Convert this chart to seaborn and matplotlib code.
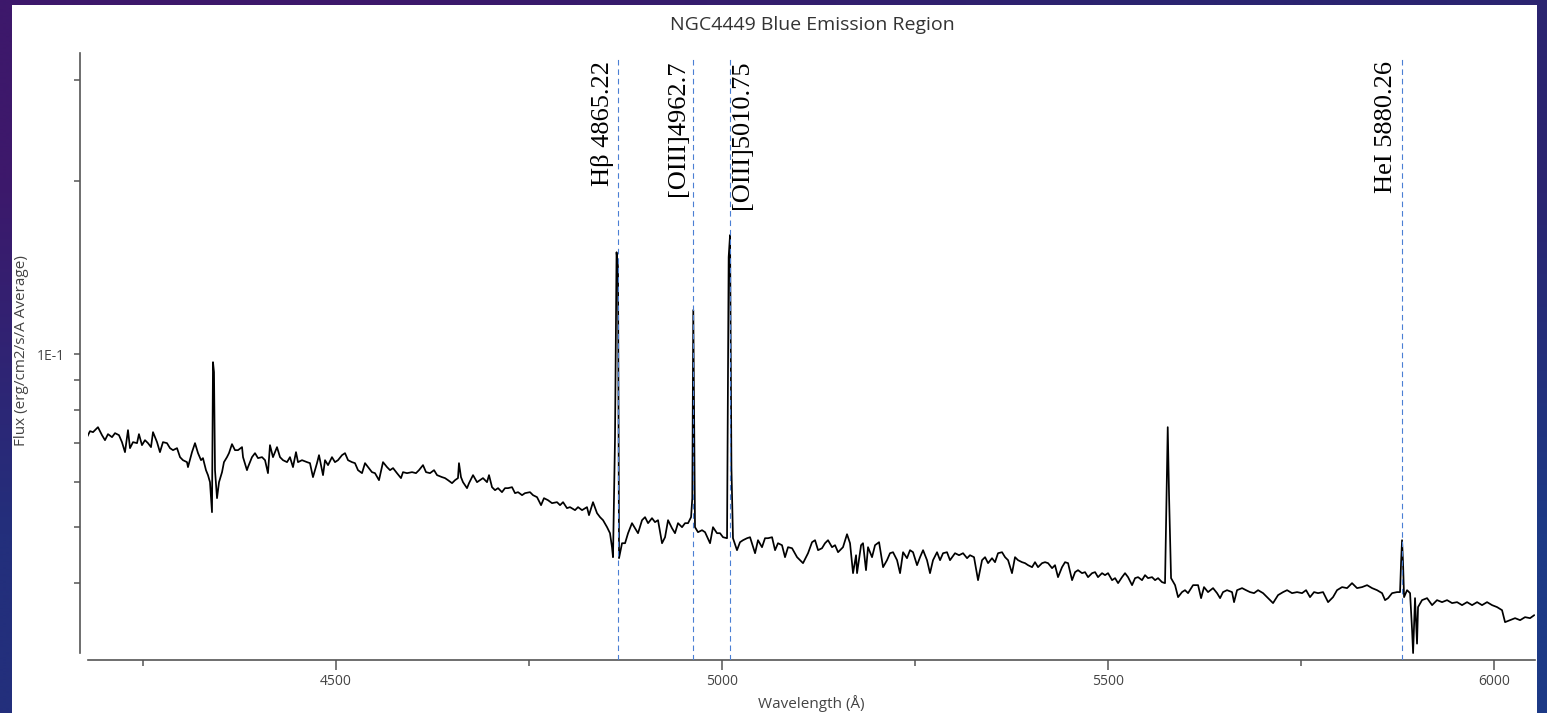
import numpy as np
import pandas as pd
import matplotlib
matplotlib.use("Agg")
import matplotlib.pyplot as plt
from matplotlib.patches import Rectangle
from matplotlib.ticker import FixedLocator, FixedFormatter, NullFormatter
import seaborn as sns

# ---------------- data ----------------
wl_blue = [
    4177.5, 4181.4, 4185.3, 4191.7, 4196.9, 4200.8, 4204.7, 4209.9, 4213.8, 4218.9,
    4222.8, 4226.7, 4230.6, 4233.2, 4237.1, 4242.3, 4244.8, 4248.7, 4252.6, 4256.5,
    4260.4, 4263.0, 4268.2, 4272.0, 4275.9, 4281.1, 4285.0, 4288.9, 4294.1, 4298.0,
    4301.8, 4307.0, 4308.3, 4313.5, 4317.4, 4321.3, 4325.2, 4327.7, 4331.6, 4334.2,
    4336.8, 4339.4, 4340.7, 4342.0, 4343.3, 4345.9, 4348.5, 4352.4, 4354.9, 4358.8,
    4361.4, 4365.3, 4369.2, 4373.1, 4378.3, 4379.6, 4384.7, 4386.0, 4391.2, 4395.1,
    4399.0, 4404.2, 4408.1, 4411.9, 4414.5, 4418.4, 4423.6, 4427.5, 4431.4, 4436.6,
    4440.4, 4444.3, 4448.2, 4450.8, 4456.0, 4462.5, 4466.3, 4470.2, 4475.4, 4478.0,
    4483.2, 4485.8, 4489.7, 4494.8, 4498.7]
fx_blue = [
    0.07172, 0.07346, 0.07317, 0.07464, 0.07230, 0.07086, 0.07259, 0.07172, 0.07288, 0.07230,
    0.07030, 0.06754, 0.07376, 0.06863, 0.07030, 0.07002, 0.07259, 0.06946, 0.07086, 0.07002,
    0.06891, 0.07317, 0.07030, 0.06754, 0.07030, 0.07002, 0.06863, 0.06808, 0.06863, 0.06620,
    0.06540, 0.06489, 0.06361, 0.06754, 0.07002, 0.06727, 0.06540, 0.06594, 0.06284, 0.06160,
    0.05989, 0.05311, 0.09685, 0.09305, 0.06284, 0.05617, 0.05989, 0.06234, 0.06489, 0.06620,
    0.06727, 0.06974, 0.06808, 0.06808, 0.06891, 0.06620, 0.06284, 0.06361, 0.06620, 0.06727,
    0.06594, 0.06620, 0.06540, 0.06209, 0.06946, 0.06620, 0.06891, 0.06620, 0.06540, 0.06489,
    0.06620, 0.06361, 0.06754, 0.06489, 0.06540, 0.06489, 0.06463, 0.06111, 0.06463, 0.06673,
    0.06160, 0.06540, 0.06412, 0.06620, 0.06489]

wl_hbeta = [
    4502.6, 4507.8, 4511.7, 4515.6, 4520.7, 4524.6, 4528.5, 4533.7, 4537.6, 4541.5,
    4546.6, 4550.5, 4555.7, 4560.9, 4566.1, 4570.0, 4573.9, 4579.0, 4584.2, 4586.8,
    4592.0, 4598.5, 4603.6, 4607.5, 4612.7, 4616.6, 4621.8, 4627.0, 4630.9, 4637.3,
    4641.2, 4645.1, 4650.3, 4654.2, 4658.0, 4659.3, 4661.9, 4664.5, 4669.7, 4672.3,
    4677.5, 4682.7, 4686.5, 4690.4, 4695.6, 4698.2, 4702.1, 4706.0, 4709.9, 4715.0,
    4718.9, 4722.8, 4728.0, 4731.9, 4735.8, 4741.0, 4744.8, 4751.3, 4755.2, 4760.4,
    4765.6, 4769.4, 4774.6, 4779.8, 4786.3, 4790.2, 4794.1, 4799.2, 4803.1, 4809.6,
    4813.5, 4818.7, 4825.1, 4827.7, 4832.9, 4838.1, 4842.0, 4845.9, 4851.1, 4854.9,
    4857.5, 4858.8, 4861.4, 4863.4, 4865.3, 4866.6, 4870.5, 4874.4, 4878.3, 4883.4,
    4887.3, 4891.2]
fx_hbeta = [
    0.06540, 0.06673, 0.06727, 0.06540, 0.06489, 0.06463, 0.06284, 0.06209, 0.06463, 0.06361,
    0.06234, 0.06209, 0.06037, 0.06489, 0.06361, 0.06284, 0.06336, 0.06209, 0.06087, 0.06234,
    0.06209, 0.06234, 0.06209, 0.06284, 0.06412, 0.06234, 0.06209, 0.06284, 0.06160, 0.06111,
    0.06087, 0.06037, 0.05965, 0.06037, 0.06087, 0.06463, 0.06111, 0.05989, 0.05847, 0.05965,
    0.06160, 0.05989, 0.06037, 0.06087, 0.05989, 0.06160, 0.05870, 0.05800, 0.05847, 0.05754,
    0.05847, 0.05847, 0.05870, 0.05731, 0.05754, 0.05685, 0.05731, 0.05754, 0.05685, 0.05640,
    0.05462, 0.05617, 0.05572, 0.05506, 0.05528, 0.05462, 0.05528, 0.05397, 0.05419, 0.05354,
    0.05419, 0.05354, 0.05419, 0.05248, 0.05528, 0.05290, 0.05206, 0.05143, 0.05001, 0.04882,
    0.04616, 0.04435, 0.07144, 0.1504, 0.1417, 0.04417, 0.04690, 0.04690, 0.04882, 0.05082,
    0.04981, 0.04882]

wl_oiii = [
    4896.4, 4900.3, 4904.2, 4909.3, 4913.2, 4917.1, 4922.3, 4926.2, 4930.1, 4935.2,
    4939.1, 4943.0, 4948.2, 4952.1, 4956.0, 4959.9, 4961.5, 4962.8, 4965.0, 4968.9,
    4974.1, 4978.0, 4984.5, 4988.3, 4993.5, 4997.4, 5001.3, 5006.5, 5008.6, 5010.4,
    5012.2, 5014.2, 5019.4, 5023.3, 5027.2, 5032.4]
fx_oiii = [
    0.05143, 0.05206, 0.05082, 0.05185, 0.05103, 0.05143, 0.04690, 0.04804, 0.05143, 0.04981,
    0.04882, 0.05082, 0.05001, 0.05082, 0.05082, 0.05206, 0.05617, 0.1193, 0.05001, 0.04902,
    0.04941, 0.04902, 0.04690, 0.05001, 0.04882, 0.04882, 0.04804, 0.04785, 0.1475, 0.1611,
    0.06336, 0.04785, 0.04561, 0.04709, 0.04747, 0.04785]

wl_mid = [
    5036.3, 5042.8, 5046.6, 5051.8, 5055.7, 5059.6, 5064.8, 5068.7, 5072.5, 5077.7,
    5081.6, 5085.5, 5090.7, 5097.2, 5104.9, 5111.4, 5116.6, 5120.5, 5124.4, 5129.5,
    5133.4, 5137.3, 5142.5, 5146.4, 5150.3, 5156.7, 5161.9, 5165.8, 5169.7, 5173.6,
    5174.9, 5180.1, 5182.6, 5186.5, 5189.1, 5194.3, 5198.2, 5203.4, 5208.6, 5213.7,
    5217.6, 5221.5, 5226.7, 5230.6, 5234.5, 5239.6, 5243.5, 5247.4, 5252.6, 5256.5,
    5260.4, 5265.5, 5269.4, 5273.3, 5278.5, 5282.4, 5286.3, 5291.4, 5295.3, 5301.8,
    5307.0, 5312.2, 5317.4, 5321.2, 5326.4, 5331.6, 5336.8, 5340.7, 5344.6, 5349.7,
    5353.6, 5357.5, 5362.7, 5366.6, 5370.5, 5375.6, 5379.5, 5383.4, 5388.6, 5392.5,
    5396.4, 5401.6, 5405.4, 5409.3, 5414.5, 5418.4, 5422.3, 5427.5, 5431.3, 5435.2,
    5440.4, 5444.3, 5448.2, 5453.4, 5457.3, 5461.1, 5466.3, 5470.2, 5474.1, 5479.3,
    5483.2, 5487.0, 5492.2, 5496.1, 5500.0, 5505.2, 5509.1, 5513.0, 5518.1, 5522.0,
    5525.9, 5531.1, 5535.0, 5538.9, 5544.0, 5547.9, 5551.8, 5557.0, 5560.9, 5564.8,
    5569.9, 5573.8, 5575.8, 5577.3, 5579.0, 5581.6]
fx_mid = [
    0.04804, 0.04506, 0.04747, 0.04616, 0.04785, 0.04785, 0.04804, 0.04561, 0.04690, 0.04653,
    0.04435, 0.04616, 0.04597, 0.04435, 0.04330, 0.04506, 0.04709, 0.04747, 0.04561, 0.04597,
    0.04690, 0.04747, 0.04616, 0.04653, 0.04524, 0.04616, 0.04862, 0.04690, 0.04160, 0.04470,
    0.04160, 0.04653, 0.04690, 0.04210, 0.04616, 0.04435, 0.04653, 0.04709, 0.04261, 0.04382,
    0.04506, 0.04524, 0.04382, 0.04160, 0.04524, 0.04417, 0.04561, 0.04524, 0.04295, 0.04435,
    0.04561, 0.04382, 0.04160, 0.04382, 0.04524, 0.04382, 0.04506, 0.04524, 0.04382, 0.04506,
    0.04470, 0.04506, 0.04417, 0.04470, 0.04435, 0.04045, 0.04382, 0.04435, 0.04330, 0.04417,
    0.04347, 0.04506, 0.04524, 0.04435, 0.04382, 0.04160, 0.04435, 0.04382, 0.04347, 0.04330,
    0.04295, 0.04261, 0.04347, 0.04261, 0.04330, 0.04347, 0.04330, 0.04244, 0.04295, 0.04094,
    0.04261, 0.04347, 0.04330, 0.04045, 0.04177, 0.04210, 0.04160, 0.04177, 0.04094, 0.04160,
    0.04177, 0.04094, 0.04160, 0.04127, 0.04160, 0.04045, 0.04078, 0.03997, 0.04094, 0.04160,
    0.04094, 0.03965, 0.04078, 0.04094, 0.04045, 0.04127, 0.04078, 0.04094, 0.04045, 0.04078,
    0.04013, 0.03997, 0.05731, 0.07464, 0.05685, 0.04078]

wl_red = [
    5586.8, 5590.7, 5595.8, 5599.7, 5603.6, 5610.1, 5616.6, 5620.5, 5624.3, 5629.5,
    5636.0, 5641.2, 5645.1, 5648.9, 5654.1, 5660.6, 5663.2, 5667.1, 5673.6, 5678.7,
    5683.9, 5689.1, 5694.3, 5700.8, 5707.2, 5713.7, 5720.2, 5726.7, 5731.9, 5738.3,
    5744.8, 5751.3, 5756.5, 5761.6, 5766.8, 5772.0, 5778.5, 5785.0, 5791.4, 5796.6,
    5803.1, 5809.6, 5816.0, 5822.5, 5829.0, 5835.5, 5842.0, 5848.4, 5854.9, 5858.8,
    5862.7, 5867.9, 5874.3, 5878.2, 5879.5, 5880.8, 5882.1, 5883.4, 5887.3, 5891.2,
    5893.8, 5895.1, 5897.6, 5900.2, 5901.5, 5906.7, 5913.2, 5919.7, 5926.1, 5932.6,
    5939.1, 5945.6, 5952.1, 5958.5, 5965.0, 5971.5, 5978.0, 5984.4, 5990.9, 5997.4,
    6003.9, 6010.3, 6014.2, 6020.7, 6027.2, 6033.7, 6040.1, 6046.6, 6052.0]
fx_red = [
    0.03965, 0.03779, 0.03856, 0.03886, 0.03840, 0.03965, 0.03965, 0.03764, 0.03934, 0.03856,
    0.03918, 0.03840, 0.03764, 0.03856, 0.03886, 0.03856, 0.03704, 0.03886, 0.03918, 0.03886,
    0.03856, 0.03840, 0.03886, 0.03840, 0.03764, 0.03690, 0.03810, 0.03856, 0.03886, 0.03840,
    0.03856, 0.03840, 0.03886, 0.03779, 0.03856, 0.03840, 0.03856, 0.03704, 0.03779, 0.03886,
    0.03934, 0.03918, 0.03997, 0.03918, 0.03934, 0.03965, 0.03918, 0.03886, 0.03840, 0.03734,
    0.03764, 0.03840, 0.03856, 0.03856, 0.04330, 0.04747, 0.04330, 0.03779, 0.03886, 0.03840,
    0.03311, 0.03021, 0.03764, 0.03137, 0.03631, 0.03734, 0.03764, 0.03660, 0.03734, 0.03704,
    0.03734, 0.03690, 0.03704, 0.03660, 0.03704, 0.03660, 0.03704, 0.03660, 0.03704, 0.03660,
    0.03631, 0.03587, 0.03419, 0.03446, 0.03474, 0.03446, 0.03488, 0.03474, 0.03516]

line_labels = ["Hβ 4865.22", "[OIII]4962.7", "[OIII]5010.75", "HeI 5880.26"]
line_waves = [4865.22, 4962.7, 5010.75, 5880.26]
label_side = ["right", "right", "left", "right"]

x_major = [4500, 5000, 5500, 6000]
x_minor = [4250, 4750, 5250, 5750]
y_major = [0.1]
y_major_labels = ["1E-1"]
y_minor = [0.04, 0.05, 0.06, 0.07, 0.08, 0.09, 0.2, 0.3]

title = "NGC4449 Blue Emission Region"
xlabel = "Wavelength (Å)"
ylabel = "Flux (erg/cm2/s/A Average)"

spec = pd.DataFrame({
    "wavelength": wl_blue + wl_hbeta + wl_oiii + wl_mid + wl_red,
    "flux": fx_blue + fx_hbeta + fx_oiii + fx_mid + fx_red,
})

# ---------------- figure ----------------
sns.set_style("ticks")
plt.rcParams["font.family"] = ["Open Sans", "DejaVu Sans"]

W, H = 1547, 713
fig = plt.figure(figsize=(W / 100, H / 100), dpi=100)
TL, TR = [0x3d, 0x18, 0x6b], [0x2b, 0x24, 0x70]
BL, BR = [0x23, 0x2f, 0x7c], [0x1d, 0x3a, 0x86]

# slide-like background gradient + white panel
bg = fig.add_axes([0, 0, 1, 1], zorder=-10)
grad = np.array([[TL, TR], [BL, BR]]) / 255.0
bg.imshow(grad, extent=[0, 1, 0, 1], aspect="auto", interpolation="bilinear")
bg.add_patch(Rectangle((12 / W, 0), (1537 - 12) / W, (H - 5) / H,
                       facecolor="white", edgecolor="none"))
bg.set_xlim(0, 1)
bg.set_ylim(0, 1)
bg.axis("off")

left, right, top, bottom = 88, 1535, 53, 660
ax = fig.add_axes([left / W, 1 - bottom / H, (right - left) / W, (bottom - top) / H])
ax.set_facecolor("white")

sns.lineplot(data=spec, x="wavelength", y="flux", ax=ax, color="black",
             lw=1.25, estimator=None, sort=False)
ax.set_yscale("log")
ax.set_xlim(4178.8, 6053.0)
ax.set_ylim(0.02938, 0.334)

for lam, lab, side in zip(line_waves, line_labels, label_side):
    ax.axvline(lam, ymin=0, ymax=0.992, color="#4a7fd4", lw=0.8,
               ls=(0, (5, 3.5)), zorder=3)
    dx = -3.0 if side == "right" else 0.5
    ax.annotate(lab, xy=(lam, 0.987), xycoords=("data", "axes fraction"),
                xytext=(dx, 0), textcoords="offset points", rotation=90,
                ha=side, va="top", fontsize=19, family=["Liberation Serif", "DejaVu Serif"],
                color="black")

# spines
sns.despine(ax=ax)
for s in ("left", "bottom"):
    ax.spines[s].set_color("#555555")
    ax.spines[s].set_linewidth(1.2)
ax.spines["left"].set_position(("outward", 6))
ax.spines["left"].set_bounds(0.0302, 0.334)

# ticks
ax.xaxis.set_major_locator(FixedLocator(x_major))
ax.xaxis.set_minor_locator(FixedLocator(x_minor))
ax.xaxis.set_minor_formatter(NullFormatter())
ax.yaxis.set_major_locator(FixedLocator(y_major))
ax.yaxis.set_major_formatter(FixedFormatter(y_major_labels))
ax.yaxis.set_minor_locator(FixedLocator(y_minor))
ax.yaxis.set_minor_formatter(NullFormatter())
ax.tick_params(axis="x", which="major", length=7.2, width=1.1, color="#555555",
               labelsize=10, labelcolor="#444444", pad=3)
ax.tick_params(axis="x", which="minor", length=4.3, width=1.1, color="#555555")
ax.tick_params(axis="y", which="both", length=4.3, width=1.1, color="#555555",
               labelsize=10, labelcolor="#444444", pad=6)

ax.set_xlabel(xlabel, fontsize=11, color="#444444", labelpad=4)
ax.set_ylabel(ylabel, fontsize=11, color="#444444")
ax.yaxis.set_label_coords((29 - left) / (right - left), (bottom - 351) / (bottom - top))

fig.text(812 / W, 1 - 25 / H, title, ha="center", va="center",
         fontsize=14, color="#333333")

# right border strip of the slide drawn on top
strip = fig.add_axes([1537 / W, 0, 1 - 1537 / W, 1], zorder=20)
strip.imshow(np.array([[TR], [BR]]) / 255.0, extent=[0, 1, 0, 1],
             aspect="auto", interpolation="bilinear")
strip.axis("off")

fig.savefig("out.png", dpi=100)
